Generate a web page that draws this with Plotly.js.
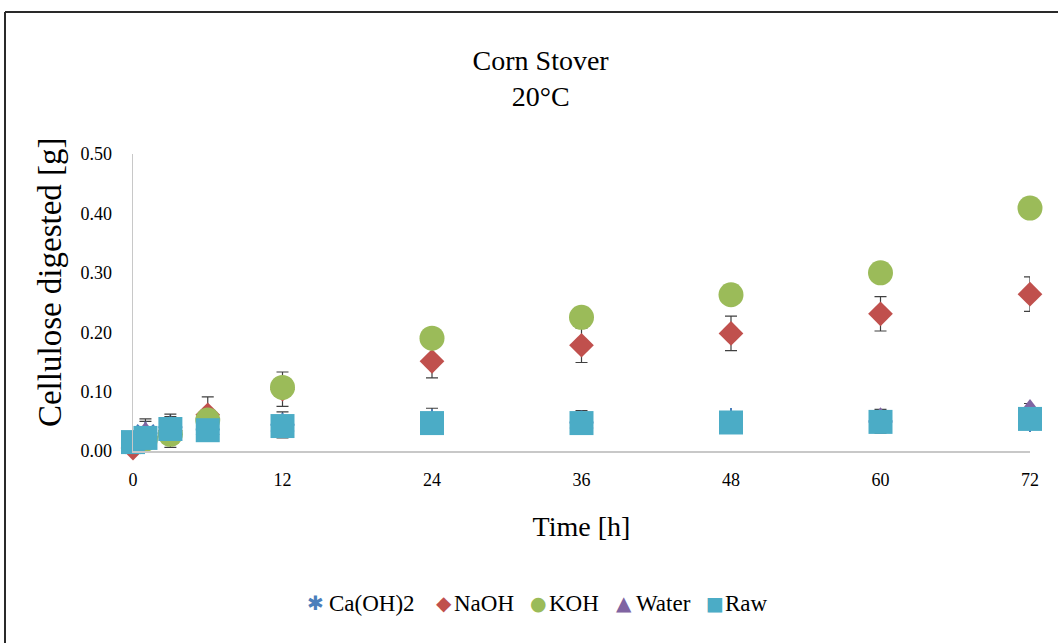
<!DOCTYPE html>
<html>
<head>
<meta charset="utf-8">
<script src="https://cdn.plot.ly/plotly-3.0.1.min.js"></script>
<style>html,body{margin:0;padding:0;background:#fff;}#chart{width:1058px;height:643px;}</style>
</head>
<body>
<div id="chart"></div>
<script>
const timeH = [0, 1, 3, 6, 12, 24, 36, 48, 60, 72];
const caOH2 = [0.010, 0.030, 0.040, 0.036, 0.044, 0.050, 0.048, 0.052, 0.050, 0.052];
const caOH2Err = [0.004, 0.020, 0.018, 0.010, 0.022, 0.022, 0.020, 0.012, 0.020, 0.010];
const naOH = [0.005, 0.025, 0.034, 0.061, 0.104, 0.151, 0.178, 0.198, 0.231, 0.264];
const naOHErr = [0.004, 0.029, 0.028, 0.030, 0.029, 0.028, 0.029, 0.029, 0.029, 0.029];
const kOH = [-0.002, 0.020, 0.028, 0.052, 0.107, 0.190, 0.225, 0.263, 0.300, 0.409];
const kOHErr = [0.003, 0.004, 0.004, 0.005, 0.006, 0.008, 0.008, 0.008, 0.008, 0.008];
const water = [-0.006, 0.032, 0.027, 0.036, 0.042, 0.046, 0.047, 0.048, 0.056, 0.070];
const waterErr = [0.004, 0.006, 0.005, 0.005, 0.005, 0.005, 0.005, 0.005, 0.005, 0.010];
const raw = [0.015, 0.022, 0.037, 0.035, 0.042, 0.047, 0.047, 0.048, 0.049, 0.054];
const rawErr = [0.004, 0.006, 0.006, 0.006, 0.006, 0.006, 0.006, 0.006, 0.006, 0.006];
const seriesNames = ['Ca(OH)2', 'NaOH', 'KOH', 'Water', 'Raw'];
const yTickVals = [0, 0.1, 0.2, 0.3, 0.4, 0.5];
const yTickText = ['0.00', '0.10', '0.20', '0.30', '0.40', '0.50'];
const xTickVals = [0, 12, 24, 36, 48, 60, 72];

// styles
const seriesColors = ['#4a7ebb', '#c0504d', '#9bbb59', '#8064a2', '#4bacc6'];
const legendGlyphs = ['\u2731', '\u25C6', '\u25CF', '\u25B2', '\u25A0'];
const legendGlyphSize = [20, 20, 19, 20, 19];
const legendGlyphX = [315, 444, 538, 624, 715];   // px
const legendTextX = [327, 452, 547, 634, 723];    // px
const plotL = 133, plotW = 897, plotB = 451, plotH = 297;

const serif = 'Liberation Serif';
const errStyle = (arr) => ({type: 'data', array: arr, visible: true, color: '#404040', thickness: 1.2, width: 6});
const mk = (name, y, err, symbol, color, size, lineColor, lineWidth) => ({
  type: 'scatter', mode: 'markers', name: name, x: timeH, y: y,
  error_y: errStyle(err), cliponaxis: false, showlegend: false,
  marker: {symbol: symbol, color: color, size: size, line: {color: lineColor || color, width: lineWidth || 0}}
});

const data = [
  mk(seriesNames[0], caOH2, caOH2Err, 'asterisk-open', seriesColors[0], 20, seriesColors[0], 2),
  mk(seriesNames[1], naOH, naOHErr, 'diamond', seriesColors[1], 19),
  mk(seriesNames[2], kOH, kOHErr, 'circle', seriesColors[2], 25),
  mk(seriesNames[3], water, waterErr, 'triangle-up', seriesColors[3], 21),
  mk(seriesNames[4], raw, rawErr, 'square', seriesColors[4], 24)
];

const legendY = (plotB - 603) / plotH;
const legendAnns = [];
seriesNames.forEach((n, i) => {
  legendAnns.push({text: legendGlyphs[i], xref: 'paper', yref: 'paper',
    x: (legendGlyphX[i] - plotL) / plotW, y: legendY, xanchor: 'center', yanchor: 'middle',
    showarrow: false, font: {family: 'DejaVu Sans', size: legendGlyphSize[i], color: seriesColors[i]}});
  legendAnns.push({text: n, xref: 'paper', yref: 'paper',
    x: (legendTextX[i] - plotL) / plotW, y: legendY, xanchor: 'left', yanchor: 'middle',
    showarrow: false, font: {family: serif, size: 23, color: '#000'}});
});

const layout = {
  width: 1058, height: 643,
  margin: {l: 133, r: 28, t: 154, b: 192},
  paper_bgcolor: '#ffffff', plot_bgcolor: '#ffffff',
  font: {family: serif, color: '#000000', size: 18},
  showlegend: false,
  title: {text: 'Corn Stover<br>20°C', font: {family: serif, size: 28, color: '#000'},
          x: 0.511, xanchor: 'center', xref: 'container', y: 0.891, yanchor: 'middle', yref: 'container'},
  xaxis: {
    range: [0, 72], tickvals: xTickVals, ticktext: xTickVals.map(String),
    showgrid: false, zeroline: false, showline: true, linecolor: '#c8c8c8', linewidth: 1.5,
    ticks: 'outside', ticklen: 12, tickcolor: 'rgba(0,0,0,0)',
    tickfont: {family: serif, size: 18, color: '#000'},
    title: {text: 'Time [h]', font: {family: serif, size: 28, color: '#000'}, standoff: 27},
    fixedrange: true
  },
  yaxis: {
    range: [0, 0.5], tickvals: yTickVals, ticktext: yTickText,
    showgrid: false, zeroline: false, showline: true, linecolor: '#c8c8c8', linewidth: 1.5,
    ticks: 'outside', ticklen: 16, tickcolor: 'rgba(0,0,0,0)',
    tickfont: {family: serif, size: 18, color: '#000'},
    automargin: false, fixedrange: true
  },
  annotations: [
    {text: 'Cellulose digested [g]', xref: 'paper', yref: 'paper', x: -0.0925, y: 0.569,
     xanchor: 'center', yanchor: 'middle', textangle: -90, showarrow: false,
     font: {family: serif, size: 33, color: '#000'}}
  ].concat(legendAnns),
  shapes: [
    {type: 'line', xref: 'paper', yref: 'paper', x0: -0.1427, x1: 1.2, y0: 1.478, y1: 1.478,
     line: {color: '#2a2a2a', width: 2}},
    {type: 'line', xref: 'paper', yref: 'paper', x0: -0.1427, x1: -0.1427, y0: 1.478, y1: -0.7,
     line: {color: '#2a2a2a', width: 2}}
  ]
};

Plotly.newPlot('chart', data, layout, {displayModeBar: false, staticPlot: true});
</script>
</body>
</html>
